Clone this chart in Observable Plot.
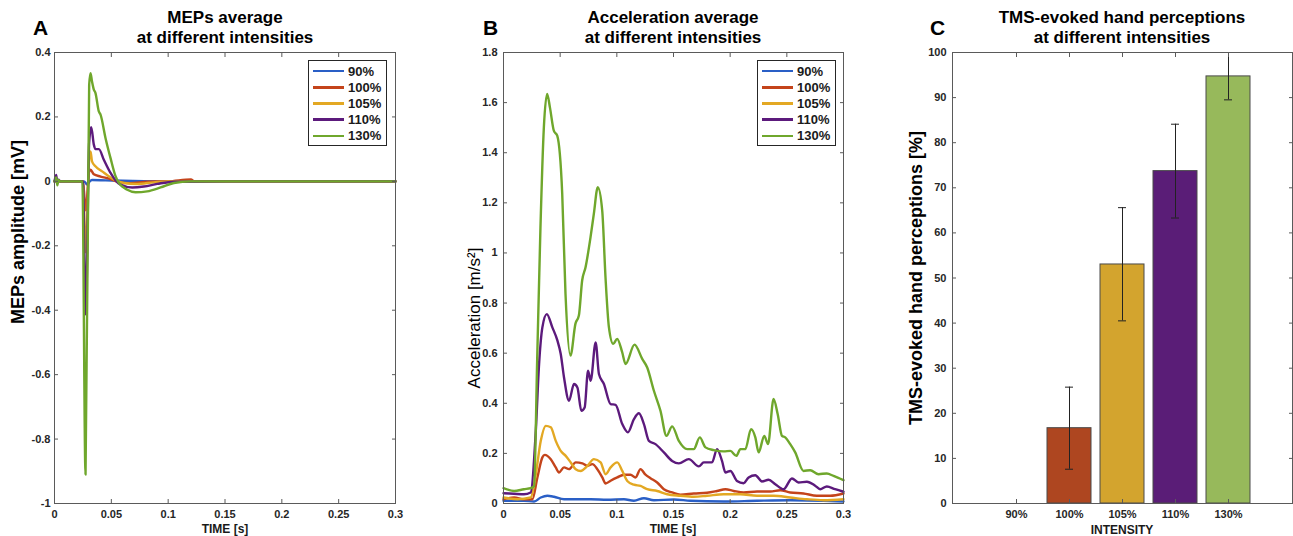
<!DOCTYPE html>
<html><head><meta charset="utf-8">
<script src="https://cdn.jsdelivr.net/npm/d3@7"></script>
<script src="https://cdn.jsdelivr.net/npm/@observablehq/plot@0.6"></script>
<style>
body{margin:0;background:#fff;}
#root{position:relative;width:1293px;height:536px;overflow:hidden;font-family:"Liberation Sans",Arial,sans-serif;color:#000;background:#fff;}
.abs{position:absolute;white-space:nowrap;}
.title{font-weight:bold;font-size:17px;line-height:20px;text-align:center;transform:translateX(-50%);}
.letter{font-weight:bold;font-size:21px;line-height:1;}
.ylab{font-size:18px;font-weight:bold;line-height:1;transform:translate(-50%,-50%) rotate(-90deg);}
.xlab{font-size:12px;font-weight:bold;line-height:1;transform:translateX(-50%);color:#1a1a1a;}
.legend{border:1px solid #262626;background:#fff;padding:2px 4px 1px 4px;box-sizing:border-box;}
.legend .row{display:flex;align-items:center;height:16.2px;font-size:13px;font-weight:bold;color:#1a1a1a;}
.legend .sw{width:31px;height:2.5px;margin-right:4px;}
</style></head><body><div id="root"></div>
<script>
// ---------- shared ----------
const intensities = ["90%", "100%", "105%", "110%", "130%"];
const lineColors = ["#2a5fc6", "#c4441b", "#e3a823", "#5c1a7c", "#6fa72c"];
const barColors = ["#ffffff", "#ae4620", "#d3a42e", "#5a1d77", "#97b95b"];

const timeTicks = [0, 0.05, 0.1, 0.15, 0.2, 0.25, 0.3];
const timeTickLabels = ["0", "0.05", "0.1", "0.15", "0.2", "0.25", "0.3"];

// ---------- Panel A : MEPs ----------
const mepYTicks = [-1, -0.8, -0.6, -0.4, -0.2, 0, 0.2, 0.4];
const mepYTickLabels = ["-1", "-0.8", "-0.6", "-0.4", "-0.2", "0", "0.2", "0.4"];

const mepT90 = [0, 0.015, 0.026, 0.0287, 0.031, 0.033, 0.045, 0.06, 0.1, 0.15, 0.2, 0.25, 0.3];
const mep90  = [0, 0, 0, -0.01, 0.0, 0.004, 0.003, 0.002, 0, 0, 0, 0, 0];

const mepT100 = [0, 0.015, 0.025, 0.0275, 0.0305, 0.0317, 0.0346, 0.0405, 0.0493, 0.055, 0.0669, 0.0815, 0.1, 0.12, 0.123, 0.15, 0.2, 0.25, 0.3];
const mep100  = [0, 0, 0, -0.09, 0.03, 0.036, 0.022, 0.015, 0.007, -0.001, -0.006, -0.001, 0, 0.006, 0, 0, 0, 0, 0];

const mepT105 = [0, 0.015, 0.025, 0.0275, 0.0305, 0.0317, 0.033, 0.036, 0.0419, 0.0493, 0.0537, 0.061, 0.0727, 0.0874, 0.1, 0.15, 0.2, 0.25, 0.3];
const mep105  = [0, 0, 0, -0.22, 0.07, 0.093, 0.062, 0.047, 0.031, 0.012, 0.003, -0.005, -0.008, -0.003, 0, 0, 0, 0, 0];

const mepT110 = [0, 0.0015, 0.0025, 0.0035, 0.005, 0.015, 0.025, 0.0275, 0.0305, 0.0323, 0.0346, 0.036, 0.039, 0.0434, 0.0493, 0.0537, 0.058, 0.0684, 0.0786, 0.0904, 0.105, 0.15, 0.2, 0.25, 0.3];
const mep110  = [0, 0.02, -0.005, 0.005, 0, 0, 0, -0.413, 0.12, 0.168, 0.114, 0.10, 0.10, 0.067, 0.026, 0.003, -0.01, -0.019, -0.016, -0.008, -0.001, 0, 0, 0, 0];

const mepT130 = [0, 0.0015, 0.0025, 0.0035, 0.005, 0.015, 0.0245, 0.0273, 0.0305, 0.0317, 0.033, 0.0346, 0.036, 0.039, 0.0405, 0.0449, 0.0493, 0.0537, 0.0566, 0.064, 0.0713, 0.0815, 0.0933, 0.105, 0.12, 0.15, 0.2, 0.25, 0.3];
const mep130  = [0, 0.012, -0.012, 0.004, 0, 0, 0, -0.91, 0.30, 0.336, 0.31, 0.285, 0.275, 0.217, 0.207, 0.134, 0.072, 0.016, -0.005, -0.026, -0.034, -0.031, -0.019, -0.005, 0, 0, 0, 0, 0];

// ---------- Panel B : acceleration ----------
const accYTicks = [0, 0.2, 0.4, 0.6, 0.8, 1, 1.2, 1.4, 1.6, 1.8];
const accYTickLabels = ["0", "0.2", "0.4", "0.6", "0.8", "1", "1.2", "1.4", "1.6", "1.8"];

const accT90 = [0, 0.018, 0.027, 0.0329, 0.0387, 0.0446, 0.0534, 0.0652, 0.0769, 0.0916, 0.1063, 0.1151, 0.1239, 0.1327, 0.1503, 0.165, 0.1943, 0.2237, 0.253, 0.2824, 0.3];
const acc90  = [0.011, 0.011, 0.008, 0.024, 0.031, 0.027, 0.017, 0.017, 0.017, 0.015, 0.017, 0.011, 0.021, 0.013, 0.016, 0.011, 0.008, 0.011, 0.013, 0.011, 0.008];

const accT100 = [0, 0.0094, 0.018, 0.0255, 0.0299, 0.0343, 0.0364, 0.0417, 0.0461, 0.049, 0.0534, 0.0578, 0.0637, 0.0696, 0.074, 0.0784, 0.0828, 0.0872, 0.0901, 0.0945, 0.1004, 0.1063, 0.1121, 0.1165, 0.1209, 0.1253, 0.1297, 0.1356, 0.1415, 0.1488, 0.1561, 0.1679, 0.1796, 0.1884, 0.1958, 0.2031, 0.2119, 0.2237, 0.2354, 0.2442, 0.253, 0.2647, 0.2765, 0.2882, 0.3];
const acc100  = [0.017, 0.024, 0.017, 0.017, 0.104, 0.184, 0.194, 0.177, 0.144, 0.124, 0.144, 0.137, 0.164, 0.16, 0.15, 0.157, 0.137, 0.104, 0.08, 0.091, 0.104, 0.115, 0.115, 0.104, 0.137, 0.115, 0.101, 0.084, 0.057, 0.044, 0.035, 0.04, 0.043, 0.05, 0.057, 0.05, 0.044, 0.048, 0.048, 0.053, 0.044, 0.04, 0.031, 0.031, 0.04];

const accT105 = [0, 0.0123, 0.024, 0.0285, 0.0329, 0.0373, 0.0417, 0.0461, 0.0505, 0.0549, 0.0593, 0.0637, 0.0681, 0.074, 0.0798, 0.0857, 0.0901, 0.0945, 0.1004, 0.1048, 0.1092, 0.1151, 0.1209, 0.1268, 0.1356, 0.1444, 0.1561, 0.1679, 0.1796, 0.1943, 0.209, 0.2237, 0.2383, 0.253, 0.2677, 0.2824, 0.3];
const acc105  = [0.024, 0.017, 0.024, 0.117, 0.25, 0.31, 0.304, 0.25, 0.21, 0.19, 0.164, 0.137, 0.13, 0.15, 0.177, 0.164, 0.117, 0.144, 0.164, 0.13, 0.09, 0.075, 0.07, 0.057, 0.05, 0.037, 0.031, 0.027, 0.031, 0.037, 0.037, 0.031, 0.031, 0.024, 0.017, 0.013, 0.017];

const accT110 = [0, 0.009, 0.018, 0.024, 0.0285, 0.0314, 0.0343, 0.0382, 0.0431, 0.0476, 0.0505, 0.0534, 0.0578, 0.0622, 0.0652, 0.0687, 0.0716, 0.0746, 0.0769, 0.0813, 0.0842, 0.0886, 0.0945, 0.0989, 0.1048, 0.1098, 0.1151, 0.1195, 0.1239, 0.1283, 0.1341, 0.1415, 0.1488, 0.1547, 0.1635, 0.1723, 0.1767, 0.184, 0.1884, 0.1928, 0.1958, 0.2002, 0.206, 0.2119, 0.2163, 0.2222, 0.2281, 0.2339, 0.2398, 0.2471, 0.2545, 0.2603, 0.2677, 0.275, 0.2794, 0.2853, 0.2926, 0.3];
const acc110  = [0.041, 0.039, 0.037, 0.044, 0.29, 0.557, 0.703, 0.756, 0.703, 0.65, 0.597, 0.503, 0.41, 0.477, 0.463, 0.37, 0.383, 0.53, 0.49, 0.643, 0.517, 0.477, 0.397, 0.394, 0.317, 0.284, 0.337, 0.36, 0.317, 0.25, 0.237, 0.204, 0.17, 0.16, 0.177, 0.148, 0.164, 0.164, 0.217, 0.17, 0.124, 0.13, 0.09, 0.081, 0.104, 0.113, 0.088, 0.095, 0.077, 0.057, 0.1, 0.084, 0.087, 0.071, 0.057, 0.068, 0.057, 0.047];

const accT130 = [0, 0.0094, 0.018, 0.024, 0.027, 0.0297, 0.0326, 0.0356, 0.0385, 0.041, 0.0444, 0.0474, 0.0518, 0.0547, 0.0591, 0.0635, 0.0665, 0.0694, 0.0724, 0.0768, 0.0797, 0.0832, 0.0871, 0.09, 0.093, 0.0968, 0.1003, 0.1047, 0.1077, 0.1156, 0.1224, 0.1268, 0.1327, 0.1385, 0.1438, 0.1488, 0.1547, 0.162, 0.1679, 0.1732, 0.1782, 0.1855, 0.1943, 0.2002, 0.2055, 0.209, 0.2134, 0.2184, 0.2222, 0.2251, 0.2301, 0.2334, 0.2383, 0.2419, 0.2457, 0.2486, 0.253, 0.2574, 0.2647, 0.2706, 0.278, 0.2853, 0.2912, 0.3];
const acc130  = [0.061, 0.05, 0.057, 0.061, 0.07, 0.571, 1.10, 1.50, 1.635, 1.58, 1.488, 1.468, 1.237, 0.837, 0.59, 0.718, 0.75, 0.89, 0.943, 1.063, 1.156, 1.262, 1.169, 0.903, 0.704, 0.637, 0.657, 0.604, 0.557, 0.634, 0.577, 0.543, 0.45, 0.37, 0.27, 0.308, 0.25, 0.217, 0.217, 0.264, 0.224, 0.213, 0.208, 0.21, 0.19, 0.217, 0.217, 0.297, 0.264, 0.204, 0.27, 0.237, 0.417, 0.357, 0.27, 0.264, 0.237, 0.204, 0.13, 0.133, 0.117, 0.12, 0.11, 0.093];

// ---------- Panel C : perceptions ----------
const percYTicks = [0, 10, 20, 30, 40, 50, 60, 70, 80, 90, 100];
const percMean = [0, 16.7, 53.0, 73.7, 94.7];
const percErrLow = [0, 7.6, 40.5, 63.3, 89.5];
const percErrHigh = [0, 25.8, 65.6, 84.1, 100];

// ---------- helpers ----------
const root = document.getElementById("root");
function addDiv(cls, style, html) {
  const d = document.createElement("div");
  d.className = "abs " + cls;
  Object.assign(d.style, style);
  d.innerHTML = html;
  root.appendChild(d);
  return d;
}
function place(svg, left, top) {
  const w = document.createElement("div");
  w.className = "abs";
  w.style.left = left + "px";
  w.style.top = top + "px";
  w.appendChild(svg);
  root.appendChild(w);
}
const plotStyle = {fontFamily: "Liberation Sans, Arial, sans-serif", fontSize: "11px", fontWeight: "bold", color: "#262626", background: "white", overflow: "visible"};
const timeFmt = d => timeTickLabels[timeTicks.indexOf(d)];
const axisFont = {fontSize: 11, fontWeight: "bold", fill: "#262626"};

function boxAxes(xTicks, xFmt, yTicks, yFmt, yPad) {
  return [
    Plot.frame({stroke: "#5a5a5a", strokeWidth: 1}),
    Plot.axisX({anchor: "bottom", ticks: xTicks, tickSize: -4, tickPadding: 11, tickFormat: xFmt, label: null, stroke: "#5a5a5a", ...axisFont}),
    Plot.axisX({anchor: "top", ticks: xTicks, tickSize: -4, tickFormat: () => "", label: null, stroke: "#5a5a5a"}),
    Plot.axisY({anchor: "left", ticks: yTicks, tickSize: -4, tickPadding: yPad, tickFormat: yFmt, label: null, stroke: "#5a5a5a", ...axisFont}),
    Plot.axisY({anchor: "right", ticks: yTicks, tickSize: -4, tickFormat: () => "", label: null, stroke: "#5a5a5a"})
  ];
}
function series(ts, vs) { return ts.map((t, i) => ({t, v: vs[i]})); }

// ---------- Panel A ----------
const mepSeries = [[mepT90, mep90], [mepT100, mep100], [mepT105, mep105], [mepT110, mep110], [mepT130, mep130]];
const plotA = Plot.plot({
  width: 400, height: 490, marginLeft: 54, marginRight: 5, marginTop: 6, marginBottom: 33,
  style: plotStyle,
  x: {domain: [0, 0.3]},
  y: {domain: [-1, 0.4]},
  marks: [
    ...mepSeries.map(([ts, vs], i) => Plot.line(series(ts, vs), {x: "t", y: "v", stroke: lineColors[i], strokeWidth: 2.4, curve: "monotone-x"})),
    ...boxAxes(timeTicks, timeFmt, mepYTicks, d => mepYTickLabels[mepYTicks.indexOf(d)], 8)
  ]
});
place(plotA, 0, 46);

// ---------- Panel B ----------
const accSeries = [[accT90, acc90], [accT100, acc100], [accT105, acc105], [accT110, acc110], [accT130, acc130]];
const plotB = Plot.plot({
  width: 400, height: 490, marginLeft: 53, marginRight: 7, marginTop: 6, marginBottom: 33,
  style: plotStyle,
  x: {domain: [0, 0.3]},
  y: {domain: [0, 1.8]},
  marks: [
    ...accSeries.map(([ts, vs], i) => Plot.line(series(ts, vs), {x: "t", y: "v", stroke: lineColors[i], strokeWidth: 2.4, curve: "monotone-x"})),
    ...boxAxes(timeTicks, timeFmt, accYTicks, d => accYTickLabels[accYTicks.indexOf(d)], 10)
  ]
});
place(plotB, 450, 46);

// ---------- Panel C ----------
const barData = intensities.map((c, i) => ({c, v: percMean[i], lo: percErrLow[i], hi: percErrHigh[i], fill: barColors[i]}));
const plotC = Plot.plot({
  width: 393, height: 490, marginLeft: 52, marginRight: 1, marginTop: 6, marginBottom: 33,
  style: plotStyle,
  x: {type: "band", domain: intensities, paddingInner: 0.17, paddingOuter: 0.79},
  y: {domain: [0, 100]},
  marks: [
    Plot.barY(barData.filter(d => d.v > 0), {x: "c", y: "v", fill: "fill", stroke: "#4a4a4a", strokeWidth: 1}),
    Plot.ruleX(barData.filter(d => d.hi > 0), {x: "c", y1: "lo", y2: "hi", stroke: "#222", strokeWidth: 1}),
    Plot.tickY(barData.filter(d => d.hi > 0), {x: "c", y: "lo", stroke: "#222", strokeWidth: 1, inset: 18}),
    Plot.tickY(barData.filter(d => d.hi > 0), {x: "c", y: "hi", stroke: "#222", strokeWidth: 1, inset: 18}),
    ...boxAxes(intensities, d => d, percYTicks, d => String(d), 10)
  ]
});
place(plotC, 900, 46);

// ---------- Text ----------
addDiv("letter", {left: "33px", top: "17px"}, "A");
addDiv("letter", {left: "483px", top: "17px"}, "B");
addDiv("letter", {left: "930px", top: "17px"}, "C");

addDiv("title", {left: "225px", top: "8px"}, "MEPs average<br>at different intensities");
addDiv("title", {left: "673px", top: "8px"}, "Acceleration average<br>at different intensities");
addDiv("title", {left: "1122px", top: "8px"}, "TMS-evoked hand perceptions<br>at different intensities");

addDiv("ylab", {left: "18px", top: "232px"}, "MEPs amplitude [mV]");
addDiv("ylab", {left: "474px", top: "318px", fontWeight: "normal", fontSize: "17px"}, "Acceleration [m/s²]");
addDiv("ylab", {left: "916px", top: "278px"}, "TMS-evoked hand perceptions [%]");

addDiv("xlab", {left: "225px", top: "523px"}, "TIME [s]");
addDiv("xlab", {left: "673px", top: "523px"}, "TIME [s]");
addDiv("xlab", {left: "1122px", top: "524px"}, "INTENSITY");

function legend(left) {
  const rows = intensities.map((c, i) => `<div class="row"><span class="sw" style="background:${lineColors[i]}"></span>${c}</div>`).join("");
  addDiv("legend", {left: left + "px", top: "60px", width: "79px", height: "86px"}, rows);
}
legend(308);
legend(757);
</script></body></html>
